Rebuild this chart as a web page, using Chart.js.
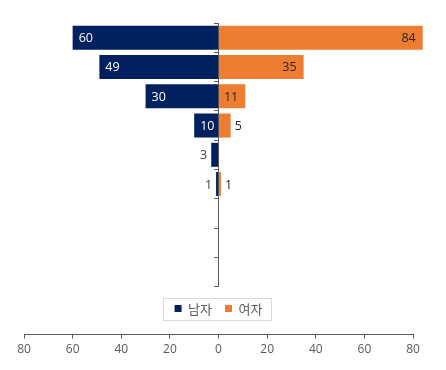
<!DOCTYPE html>
<html>
<head>
<meta charset="utf-8">
<script src="https://cdn.jsdelivr.net/npm/chart.js@4/dist/chart.umd.min.js"></script>
<style>
html,body{margin:0;padding:0;background:#fff;}
#wrap{width:446px;height:370px;}
</style>
</head>
<body>
<div id="wrap"><canvas id="c" width="446" height="370"></canvas></div>
<script>
// ---- data ----
const categories = ['구간1','구간2','구간3','구간4','구간5','구간6','구간7','구간8','구간9'];
const seriesNames = ['남자','여자'];
const maleValues = [60, 49, 30, 10, 3, 1, null, null, null];
const femaleValues = [84, 35, 11, 5, null, 1, null, null, null];
const xMin = -80, xMax = 80, xStep = 20;

const FONT_KR = '"Noto Sans CJK KR", "Noto Sans", sans-serif';
const FONT_NUM = '"Open Sans", "Noto Sans", sans-serif';
const LEGEND_HEIGHT = 48;

const barLabels = {
  id: 'barLabels',
  afterDatasetsDraw(chart) {
    const ctx = chart.ctx;
    ctx.save();
    ctx.font = '12.5px ' + FONT_NUM;
    ctx.textBaseline = 'middle';
    const raws = [maleValues, femaleValues];
    chart.data.datasets.forEach((ds, di) => {
      const meta = chart.getDatasetMeta(di);
      meta.data.forEach((el, i) => {
        const v = raws[di][i];
        if (v == null) return;
        const txt = String(v);
        const p = el.getProps(['x', 'y', 'base'], true);
        const w = Math.abs(p.x - p.base);
        const tw = ctx.measureText(txt).width;
        const neg = p.x < p.base;
        const inside = tw + 8 <= w;
        const y = p.y + 1;
        if (neg) {
          if (inside) { ctx.textAlign = 'left'; ctx.fillStyle = '#ffffff'; ctx.fillText(txt, p.x + 6, y); }
          else { ctx.textAlign = 'right'; ctx.fillStyle = '#404040'; ctx.fillText(txt, p.x - 4, y); }
        } else {
          if (inside) { ctx.textAlign = 'right'; ctx.fillStyle = '#262626'; ctx.fillText(txt, p.x - 7, y); }
          else { ctx.textAlign = 'left'; ctx.fillStyle = '#262626'; ctx.fillText(txt, p.x + 4, y); }
        }
      });
    });
    ctx.restore();
  }
};

const legendSizer = {
  id: 'legendSizer',
  beforeLayout(chart) {
    const lg = chart.legend;
    if (lg && !lg.__sized) {
      const f = lg.fit;
      lg.fit = function () { f.call(this); this.height = LEGEND_HEIGHT; };
      lg.__sized = true;
    }
  },
  afterDraw(chart) {
    const lg = chart.legend;
    if (!lg || !lg.legendHitBoxes || !lg.legendHitBoxes.length) return;
    const hb = lg.legendHitBoxes;
    let l = Infinity, r = -Infinity;
    hb.forEach(b => { l = Math.min(l, b.left); r = Math.max(r, b.left + b.width); });
    const cy = hb[0].top + hb[0].height / 2;
    const ctx = chart.ctx;
    ctx.save();
    ctx.strokeStyle = '#d9d9d9';
    ctx.lineWidth = 1;
    ctx.strokeRect(Math.round(l - 12) + 0.5, Math.round(cy - 11) + 0.5, Math.round(r - l + 20), 22);
    ctx.restore();
  }
};

Chart.defaults.font.family = FONT_KR;

new Chart(document.getElementById('c'), {
  type: 'bar',
  data: {
    labels: categories,
    datasets: [
      { label: seriesNames[0], data: maleValues.map(v => v == null ? null : -v), backgroundColor: '#002060', borderWidth: 0, categoryPercentage: 0.82, barPercentage: 1, clip: false },
      { label: seriesNames[1], data: femaleValues, backgroundColor: '#ED7D31', borderWidth: 0, categoryPercentage: 0.82, barPercentage: 1, clip: false }
    ]
  },
  options: {
    indexAxis: 'y',
    responsive: false,
    animation: false,
    layout: { padding: { top: 23, left: 24, right: 33, bottom: 9 } },
    scales: {
      x: {
        type: 'linear', min: xMin, max: xMax, stacked: true, position: 'bottom', weight: 2000,
        ticks: { stepSize: xStep, callback: v => Math.abs(v), color: '#595959', font: { size: 12, family: FONT_NUM }, padding: 4, maxRotation: 0, autoSkip: false },
        grid: { display: true, drawOnChartArea: false, drawTicks: true, tickLength: 4, color: '#595959' },
        border: { display: true, color: '#595959', width: 1 }
      },
      y: {
        type: 'category', stacked: true, position: { x: 0 }, offset: true, z: 1,
        ticks: { display: false },
        grid: { display: true, drawOnChartArea: false, drawTicks: true, tickLength: 4, offset: true, color: '#595959' },
        border: { display: true, color: '#595959', width: 1 }
      }
    },
    plugins: {
      legend: {
        position: 'bottom',
        labels: { boxWidth: 7, boxHeight: 7, padding: 13, color: '#595959', font: { size: 13, family: FONT_KR } },
        title: { display: true, text: '', font: { size: 1 }, padding: { top: 1.3, bottom: 0 } }
      },
      tooltip: { enabled: false }
    }
  },
  plugins: [barLabels, legendSizer]
});
</script>
</body>
</html>
